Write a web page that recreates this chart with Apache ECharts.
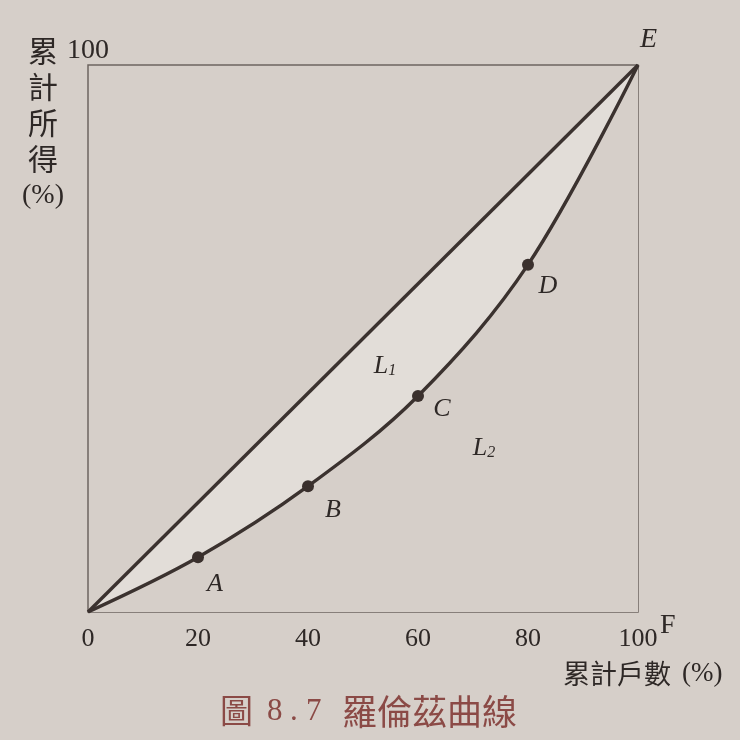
<!DOCTYPE html>
<html>
<head>
<meta charset="utf-8">
<script src="https://cdn.jsdelivr.net/npm/echarts@6/dist/echarts.min.js"></script>
<style>
html,body{margin:0;padding:0;background:#d6cfc9;}
#c{width:740px;height:740px;}
</style>
</head>
<body>
<div id="c"></div>
<script>
// Data
var xTicks = [0, 20, 40, 60, 80, 100];
var lorenzX = [0, 20, 40, 60, 80, 100];
var lorenzY = [0, 10, 23, 39.5, 63.5, 100];
var pointNames = ['', 'A', 'B', 'C', 'D', ''];
var equalityX = [0, 100];
var equalityY = [0, 100];
var regionLabels = [
  { name: '1', coord: [54, 45] },
  { name: '2', coord: [72, 30] }
];
var labelOffsets = [[0,0],[17,27],[25,24],[24,13],[20,22],[0,0]];

var serif = '"Liberation Serif","DejaVu Serif",serif';
var cjk = '"Noto Sans CJK TC","Noto Sans CJK SC",sans-serif';
var ink = '#3b322f';
var bg = '#d6cfc9';

var chart = echarts.init(document.getElementById('c'), null, {renderer:'canvas'});

var lorenzData = lorenzX.map(function(x, i){
  var item = { value: [x, lorenzY[i]], name: pointNames[i] };
  if (!pointNames[i]) { item.symbol = 'none'; item.label = {show:false}; }
  else { item.label = { offset: labelOffsets[i] }; }
  return item;
});

var option = {
  backgroundColor: bg,
  animation: false,
  grid: { left: 88, right: 102, top: 65, bottom: 128, show: true, borderColor: '#6e6560', borderWidth: 1.5, backgroundColor: 'transparent' },
  xAxis: {
    type: 'value', min: 0, max: 100, interval: 20,
    axisLine: {show:false}, axisTick: {show:false}, splitLine: {show:false},
    axisLabel: { color: '#2e2826', fontFamily: serif, fontSize: 26, margin: 14,
      formatter: function(v){ return xTicks.indexOf(v) >= 0 ? String(v) : ''; } }
  },
  yAxis: {
    type: 'value', min: 0, max: 100, interval: 100,
    axisLine: {show:false}, axisTick: {show:false}, splitLine: {show:false},
    axisLabel: { color: '#2e2826', fontFamily: serif, fontSize: 28, margin: 0,
      align: 'center', verticalAlign: 'bottom', padding: [0,0,0,0],
      formatter: function(v){ return v === 100 ? '100' : ''; } }
  },
  series: [
    {
      type: 'line', name: 'equality',
      data: equalityX.map(function(x,i){ return [x, equalityY[i]]; }),
      symbol: 'none',
      lineStyle: { color: ink, width: 3.4 },
      areaStyle: { color: '#e2ddd8', opacity: 1 },
      z: 2
    },
    {
      type: 'line', name: 'lorenz',
      data: lorenzData,
      smooth: 0.35,
      symbol: 'circle', symbolSize: 12,
      itemStyle: { color: '#3a302d' },
      lineStyle: { color: ink, width: 3.4 },
      areaStyle: { color: bg, opacity: 1 },
      label: { show: true, position: 'inside', formatter: '{b}',
        fontFamily: serif, fontStyle: 'italic', fontSize: 26, color: '#2e2826' },
      markPoint: {
        symbol: 'circle', symbolSize: 1,
        itemStyle: { color: 'rgba(0,0,0,0)' },
        label: { show: true, position: 'inside',
          formatter: function(p){ return '{l|L}{s|' + p.name + '}'; },
          rich: {
            l: { fontFamily: serif, fontStyle: 'italic', fontSize: 26, color: '#2e2826' },
            s: { fontFamily: serif, fontStyle: 'italic', fontSize: 16, color: '#2e2826', padding: [10,0,0,0] }
          }
        },
        data: regionLabels.map(function(r){ return { name: r.name, coord: r.coord }; })
      },
      z: 3
    }
  ],
  graphic: [
    { type: 'text', left: 28, top: 33, style: { text: '累\n計\n所\n得', font: '30px ' + cjk, fill: '#2e2826', lineHeight: 36 } },
    { type: 'text', left: 22, top: 182, style: { text: '(%)', font: '28px ' + serif, fill: '#2e2826' } },
    { type: 'text', left: 640, top: 26, style: { text: 'E', font: 'italic 28px ' + serif, fill: '#2e2826' } },
    { type: 'text', left: 660, top: 612, style: { text: 'F', font: '28px ' + serif, fill: '#2e2826' } },
    { type: 'text', left: 563, top: 660, style: { text: '累計戶數', font: '27px ' + cjk, fill: '#2e2826' } },
    { type: 'text', left: 682, top: 660, style: { text: '(%)', font: '27px ' + serif, fill: '#2e2826' } },
    { type: 'text', left: 220, top: 694, style: { text: '圖', font: '33px ' + cjk, fill: '#8b4a46' } },
    { type: 'text', left: 267, top: 696, style: { text: '8', font: '31px ' + serif, fill: '#8b4a46' } },
    { type: 'text', left: 290, top: 696, style: { text: '.', font: '31px ' + serif, fill: '#8b4a46' } },
    { type: 'text', left: 306, top: 696, style: { text: '7', font: '31px ' + serif, fill: '#8b4a46' } },
    { type: 'text', left: 342, top: 694, style: { text: '羅倫茲曲線', font: '35px ' + cjk, fill: '#8b4a46' } }
  ]
};
chart.setOption(option);
</script>
</body>
</html>
